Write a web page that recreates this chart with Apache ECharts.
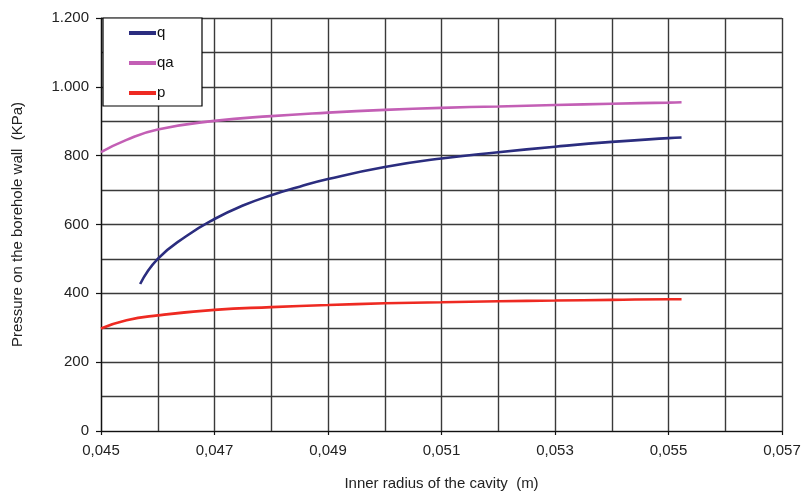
<!DOCTYPE html>
<html><head><meta charset="utf-8">
<script src="https://cdn.jsdelivr.net/npm/echarts@6/dist/echarts.min.js"></script>
<style>html,body{margin:0;padding:0;background:#fff}#c{width:805px;height:496px}</style>
</head><body><div id="c"></div>
<script>
var xQ = [0.04569, 0.0460, 0.0465, 0.0470, 0.0475, 0.0480, 0.0485, 0.0490, 0.0500, 0.0510, 0.0520, 0.0530, 0.0540, 0.0550, 0.05523];
var q  = [427, 500, 566, 616, 655, 685, 710, 732, 767, 792, 810, 826, 840, 851, 853];
var xA = [0.0450, 0.04545, 0.0460, 0.0470, 0.0480, 0.0490, 0.0500, 0.0510, 0.0520, 0.0530, 0.0540, 0.0550, 0.05523];
var qa = [810, 846, 876, 901, 915, 925, 933, 939, 943, 947, 951, 954, 955];
var p  = [298, 322, 336, 352, 360, 366, 371, 374, 377, 379, 381, 383, 383];
var xTicks = [0.045, 0.047, 0.049, 0.051, 0.053, 0.055, 0.057];
var yTicks = [0, 200, 400, 600, 800, 1000, 1200];
var seriesNames = ['q', 'qa', 'p'];
var seriesColors = ['#2b2d7f', '#c35fb5', '#ee2a22'];

function pairs(xs, ys){ return xs.map(function(x,i){ return [x, ys[i]]; }); }

var chart = echarts.init(document.getElementById('c'));
var font = 'Liberation Sans, Arial, sans-serif';
var gridLine = {show:true, lineStyle:{color:'#3a3a3a', width:1.4}};
var hidden = {axisLine:{show:false}, axisTick:{show:false}, axisLabel:{show:false}, splitLine:gridLine};
chart.setOption({
  animation:false,
  textStyle:{fontFamily:font},
  grid:{left:101, right:23, top:18, bottom:65, show:false},
  graphic:[{type:'rect', z:50, shape:{x:103, y:18, width:99, height:88}, style:{fill:'#fff', stroke:'#000', lineWidth:1.2}}],
  legend:{
    orient:'vertical', left:129, top:25, padding:0, z:60,
    itemWidth:27, itemHeight:4, itemGap:14, icon:'rect',
    data:seriesNames,
    textStyle:{fontFamily:font, fontSize:15, color:'#111', lineHeight:16, padding:[0,0,0,-4]}
  },
  xAxis:[{
    type:'value', min:0.045, max:0.057, position:'bottom',
    axisLine:{show:true, onZero:false, lineStyle:{color:'#111', width:1.2}},
    axisTick:{show:true, customValues:xTicks, length:4, lineStyle:{color:'#111', width:1.2}},
    splitLine:{show:false},
    axisLabel:{color:'#222', fontSize:15, margin:12, fontFamily:font, customValues:xTicks,
      formatter:function(v){ var m=Math.round(v*1000); return '0,0'+m; }},
    name:'Inner radius of the cavity  (m)', nameLocation:'middle', nameGap:45,
    nameTextStyle:{fontSize:15, color:'#222', fontFamily:font}
  }, Object.assign({type:'value', min:0.045, max:0.057, interval:0.001, position:'bottom'}, hidden)],
  yAxis:[{
    type:'value', min:0, max:1200, position:'left',
    axisLine:{show:true, lineStyle:{color:'#111', width:1.2}},
    axisTick:{show:true, customValues:yTicks, length:5, lineStyle:{color:'#111', width:1.2}},
    splitLine:{show:false},
    axisLabel:{color:'#222', fontSize:15, margin:12, fontFamily:font, customValues:yTicks,
      formatter:function(v){ return v>=1000 ? (Math.floor(v/1000)+'.'+String(v%1000).padStart(3,'0')) : String(v); }},
    name:'Pressure on the borehole wall  (KPa)', nameLocation:'middle', nameGap:76, nameRotate:90,
    nameTextStyle:{fontSize:15, color:'#222', fontFamily:font}
  }, Object.assign({type:'value', min:0, max:1200, interval:100, position:'left'}, hidden)],
  series:[
    {name:seriesNames[0], type:'line', data:pairs(xQ,q), smooth:0.5, showSymbol:false, symbol:'none', color:seriesColors[0], lineStyle:{width:2.6}},
    {name:seriesNames[1], type:'line', data:pairs(xA,qa), smooth:0.5, showSymbol:false, symbol:'none', color:seriesColors[1], lineStyle:{width:2.6}},
    {name:seriesNames[2], type:'line', data:pairs(xA,p), smooth:0.5, showSymbol:false, symbol:'none', color:seriesColors[2], lineStyle:{width:2.6}}
  ]
});
</script></body></html>
